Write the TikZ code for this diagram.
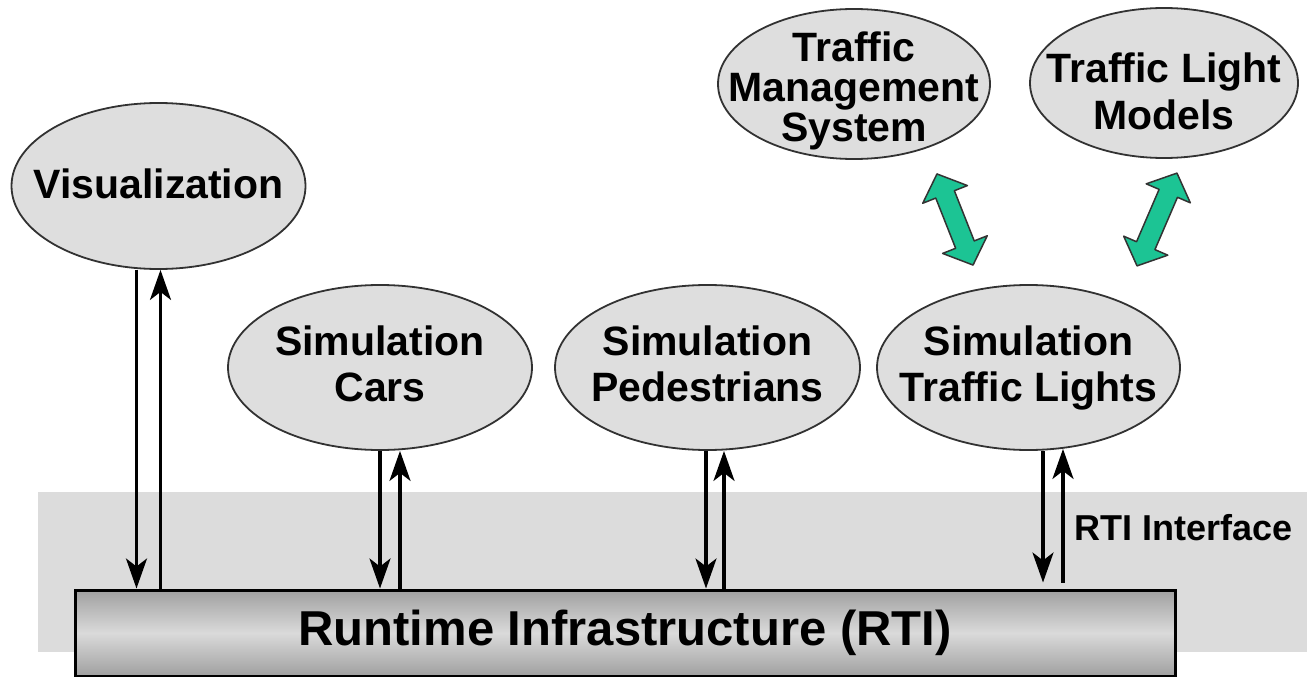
\documentclass[tikz,border=0pt]{standalone}
\usepackage{fontspec}
\setmainfont{Liberation Sans}
\usetikzlibrary{arrows.meta,shapes.geometric}
\definecolor{bandgray}{RGB}{220,220,220}
\definecolor{bubble}{RGB}{222,222,222}
\definecolor{bubbleline}{RGB}{50,50,50}
\definecolor{barlight}{RGB}{218,218,218}
\definecolor{bardark}{RGB}{160,160,160}
\definecolor{linkgreen}{RGB}{28,196,148}

\begin{document}
\begin{tikzpicture}[x=1pt,y=-1pt,
  bubble/.style={ellipse, draw=bubbleline, line width=1.8pt, fill=bubble, inner sep=0pt},
  btext/.style={align=center, inner sep=0pt, font=\fontsize{41}{46}\selectfont\bfseries},
  msg/.style={line width=3.2pt, -{Stealth[length=30pt,width=21pt,inset=8pt]}},
  link/.style={fill=linkgreen, draw=black!80, line width=1.5pt, line join=round}
]
\useasboundingbox (0,0) rectangle (1307,677);

% RTI layer band
\fill[bandgray] (38,492) rectangle (1307,652);

% runtime infrastructure bar
\node[draw, line width=3pt, minimum width=1100pt, minimum height=86pt, inner sep=0pt,
      top color=bardark, bottom color=bardark, middle color=barlight,
      font=\fontsize{49}{49}\selectfont\bfseries] (rti) at (625,633) {Runtime Infrastructure (RTI)};

% federates
\node[bubble, minimum width=294pt, minimum height=166pt] (vis) at (158.5,186) {};
\node[btext] (visT) at ([yshift=2pt]vis) {Visualization};
\node[bubble, minimum width=304pt, minimum height=165pt] (cars) at (380,367.5) {};
\node[btext] (carsT) at ([yshift=4pt]cars) {Simulation\\Cars};
\node[bubble, minimum width=305pt, minimum height=165pt] (peds) at (707.5,367.5) {};
\node[btext] (pedsT) at ([yshift=4pt]peds) {Simulation\\Pedestrians};
\node[bubble, minimum width=303pt, minimum height=165pt] (lights) at (1028.5,367.5) {};
\node[btext] (lightsT) at ([yshift=0pt]lights) {Simulation\\Traffic Lights};
\node[bubble, minimum width=272pt, minimum height=150pt] (tms) at (854,84) {};
\node[btext, font=\fontsize{41}{40}\selectfont\bfseries] (tmsT) at ([yshift=-7pt]tms) {Traffic\\Management\\System};
\node[bubble, minimum width=268pt, minimum height=150pt] (tlm) at (1164,83) {};
\node[btext, font=\fontsize{41}{47}\selectfont\bfseries] (tlmT) at ([yshift=-8pt]tlm) {Traffic Light\\Models};

% attachment points on the federates
\coordinate (visD) at ([xshift=-22pt]vis.south);
\coordinate (visU) at ([xshift=2pt]vis.south);
\coordinate (carsD) at ([xshift=0pt]cars.south);
\coordinate (carsU) at ([xshift=20pt]cars.south);
\coordinate (pedsD) at ([xshift=-1.5pt]peds.south);
\coordinate (pedsU) at ([xshift=16.5pt]peds.south);
\coordinate (lightsD) at ([xshift=14.5pt]lights.south);
\coordinate (lightsU) at ([xshift=34.5pt,yshift=2pt]lights.south);
\coordinate (lightsDe) at ([yshift=6pt]lightsD |- rti.north);
\coordinate (lightsUe) at ([yshift=6pt]lightsU |- rti.north);

% exchanges with the RTI
\draw[msg] (visD) -- (visD |- rti.north);
\draw[msg] (visU |- rti.north) -- (visU);
\draw[msg] (carsD) -- (carsD |- rti.north);
\draw[msg] (carsU |- rti.north) -- (carsU);
\draw[msg] (pedsD) -- (pedsD |- rti.north);
\draw[msg] (pedsU |- rti.north) -- (pedsU);
\draw[msg] (lightsD) -- (lightsDe);
\draw[msg] (lightsUe) -- (lightsU);

\node[anchor=west, inner sep=0pt, font=\fontsize{36}{36}\selectfont\bfseries] (rtiif) at (1074,528) {RTI Interface};

% direct couplings to the traffic light simulation
\begin{scope}[shift={(955,219.5)}, rotate=-68.4]
  \draw[link] (-49,0) -- (-27,24) -- (-27,10) -- (27,10) -- (27,24) -- (49,0)
    -- (27,-24) -- (27,-10) -- (-27,-10) -- (-27,-24) -- cycle;
\end{scope}
\begin{scope}[shift={(1157,219.5)}, rotate=-113.3]
  \draw[link] (-50.5,0) -- (-28.5,24) -- (-28.5,10) -- (28.5,10) -- (28.5,24) -- (50.5,0)
    -- (28.5,-24) -- (28.5,-10) -- (-28.5,-10) -- (-28.5,-24) -- cycle;
\end{scope}
\end{tikzpicture}
\end{document}
